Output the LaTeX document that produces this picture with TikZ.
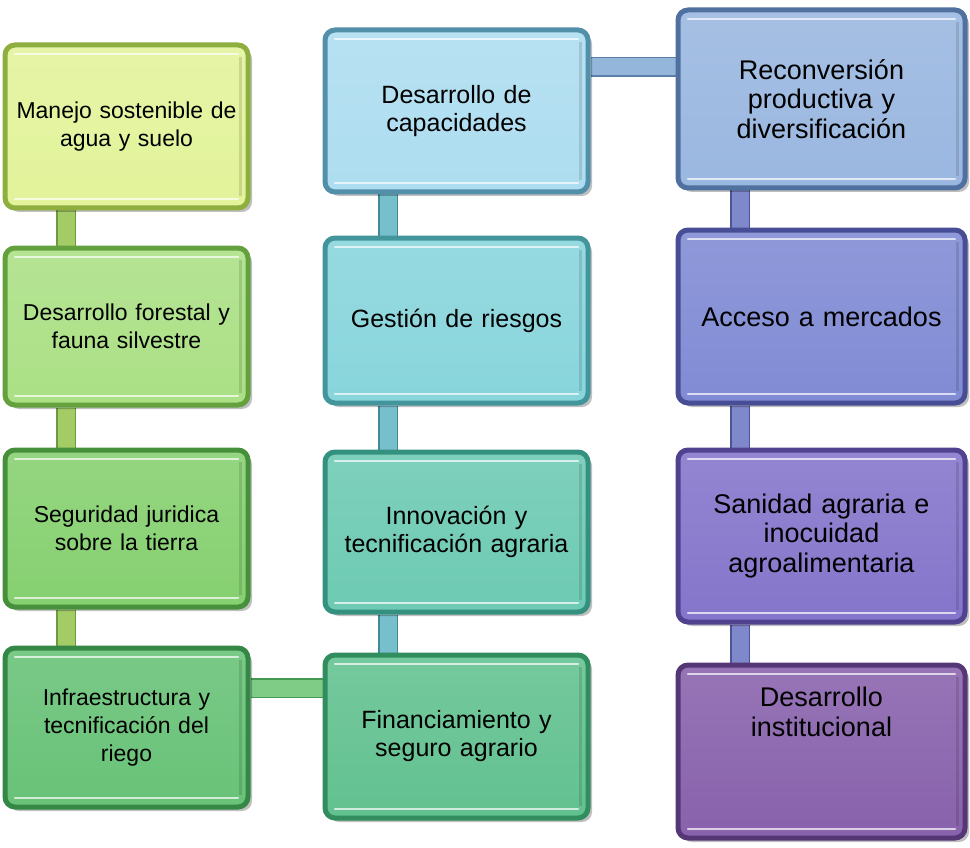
\documentclass[tikz,border=0pt]{standalone}
\usepackage{fontspec}
\setmainfont{Liberation Sans}
\usetikzlibrary{shadows}
\pgfdeclarelayer{background}
\pgfsetlayers{background,main}
\definecolor{a1f}{HTML}{E2F39A}\definecolor{a1d}{HTML}{8EAE40}
\definecolor{a2f}{HTML}{ABE085}\definecolor{a2d}{HTML}{64A03E}
\definecolor{a3f}{HTML}{86D070}\definecolor{a3d}{HTML}{46903C}
\definecolor{a4f}{HTML}{68C277}\definecolor{a4d}{HTML}{358746}
\definecolor{b1f}{HTML}{ADDDF0}\definecolor{b1d}{HTML}{528FA8}
\definecolor{b2f}{HTML}{88D5DC}\definecolor{b2d}{HTML}{42959B}
\definecolor{b3f}{HTML}{6DCAB3}\definecolor{b3d}{HTML}{35917F}
\definecolor{b4f}{HTML}{62C190}\definecolor{b4d}{HTML}{318C5E}
\definecolor{c1f}{HTML}{9AB7E0}\definecolor{c1d}{HTML}{50719F}
\definecolor{c2f}{HTML}{808BD4}\definecolor{c2d}{HTML}{474E95}
\definecolor{c3f}{HTML}{8575CB}\definecolor{c3d}{HTML}{514290}
\definecolor{c4f}{HTML}{8862AC}\definecolor{c4d}{HTML}{553776}
\definecolor{barA}{HTML}{A4CC66}\definecolor{barAd}{HTML}{6C9A3E}
\definecolor{barB}{HTML}{78BFCC}\definecolor{barBd}{HTML}{3F8A98}
\definecolor{barC}{HTML}{8088CC}\definecolor{barCd}{HTML}{4C5396}
\definecolor{barT}{HTML}{94B6DA}\definecolor{barTd}{HTML}{5A7FA8}
\definecolor{barL}{HTML}{7ECC86}\definecolor{barLd}{HTML}{449A55}
\tikzset{
  box/.style n args={3}{rectangle, rounded corners=10pt, line width=5pt,
    draw=#2, top color=#1!88!white, bottom color=#1, text width=#3,
    align=center, inner sep=0pt, text=black,
    drop shadow={shadow xshift=4pt, shadow yshift=-4pt, opacity=.25, fill=black},
    path picture={
      \draw[white, opacity=.7, line width=2.5pt, line cap=round]
        ([xshift=10pt,yshift=-9pt]path picture bounding box.north west) --
        ([xshift=-10pt,yshift=-9pt]path picture bounding box.north east);
      \draw[white, opacity=.7, line width=2.5pt, line cap=round]
        ([xshift=10pt,yshift=9pt]path picture bounding box.south west) --
        ([xshift=-10pt,yshift=9pt]path picture bounding box.south east);
      \draw[black, opacity=.12, line width=3pt]
        ([xshift=-8pt,yshift=-12pt]path picture bounding box.north east) --
        ([xshift=-8pt,yshift=12pt]path picture bounding box.south east);
    }},
  fA/.style={font=\fontsize{23}{28}\selectfont},
  fB/.style={font=\fontsize{25}{28}\selectfont},
  fC/.style={font=\fontsize{27}{29.5}\selectfont},
  bar/.style 2 args={draw=#2, line width=1.5pt, double=#1, double distance=17pt},
}
\begin{document}
\begin{tikzpicture}[x=1pt, y=-1pt]
\useasboundingbox (0,0) rectangle (970,848);
% column 1
\node[box={a1f}{a1d}{233pt}, minimum width=243pt, minimum height=163pt, fA] (a1) at (126.5,126.5) {Manejo sostenible de\\agua y suelo};
\node[box={a2f}{a2d}{233pt}, minimum width=243pt, minimum height=157pt, fA] (a2) at (126.5,326.5) {Desarrollo forestal y\\fauna silvestre};
\node[box={a3f}{a3d}{233pt}, minimum width=243pt, minimum height=157pt, fA] (a3) at (126.5,528.5) {Seguridad juridica\\sobre la tierra};
\node[box={a4f}{a4d}{233pt}, minimum width=243pt, minimum height=159pt, fA] (a4) at (126.5,727.5) {Infraestructura y\\tecnificación del\\riego};
% column 2
\node[box={b1f}{b1d}{250pt}, minimum width=263pt, minimum height=162pt, fB] (b1) at (456.5,111) {Desarrollo de\\capacidades};
\node[box={b2f}{b2d}{250pt}, minimum width=263pt, minimum height=165pt, fB] (b2) at (456.5,320.5) {Gestión de riesgos};
\node[box={b3f}{b3d}{250pt}, minimum width=263pt, minimum height=160pt, fB] (b3) at (456.5,532) {Innovación y\\tecnificación agraria};
\node[box={b4f}{b4d}{250pt}, minimum width=263pt, minimum height=163pt, fB] (b4) at (456.5,736.5) {Financiamiento y\\seguro agrario};
% column 3
\node[box={c1f}{c1d}{275pt}, minimum width=287pt, minimum height=178pt, fC] (c1) at (821.5,99) {Reconversión\\productiva y\\diversificación};
\node[box={c2f}{c2d}{275pt}, minimum width=287pt, minimum height=173pt, fC] (c2) at (821.5,316.5) {Acceso a mercados};
\node[box={c3f}{c3d}{275pt}, minimum width=287pt, minimum height=172pt, fC] (c3) at (821.5,536) {Sanidad agraria e\\inocuidad\\agroalimentaria};
\node[box={c4f}{c4d}{275pt}, minimum width=287pt, minimum height=173pt, fC] (c4) at (821.5,751.5) {Desarrollo\\institucional\\[50pt]\mbox{}};
% connectors
\coordinate (xa) at (66,0);
\coordinate (xb) at (388,0);
\coordinate (xc) at (740,0);
\coordinate (yt) at (0,67);
\coordinate (yl) at (0,688);
\begin{pgfonlayer}{background}
\draw[bar={barA}{barAd}] (a1.south -| xa) -- (a2.north -| xa);
\draw[bar={barA}{barAd}] (a2.south -| xa) -- (a3.north -| xa);
\draw[bar={barA}{barAd}] (a3.south -| xa) -- (a4.north -| xa);
\draw[bar={barB}{barBd}] (b1.south -| xb) -- (b2.north -| xb);
\draw[bar={barB}{barBd}] (b2.south -| xb) -- (b3.north -| xb);
\draw[bar={barB}{barBd}] (b3.south -| xb) -- (b4.north -| xb);
\draw[bar={barC}{barCd}] (c1.south -| xc) -- (c2.north -| xc);
\draw[bar={barC}{barCd}] (c2.south -| xc) -- (c3.north -| xc);
\draw[bar={barC}{barCd}] (c3.south -| xc) -- (c4.north -| xc);
\draw[bar={barT}{barTd}] (b1.east |- yt) -- (c1.west |- yt);
\draw[bar={barL}{barLd}] (a4.east |- yl) -- (b4.west |- yl);
\end{pgfonlayer}
\end{tikzpicture}
\end{document}
